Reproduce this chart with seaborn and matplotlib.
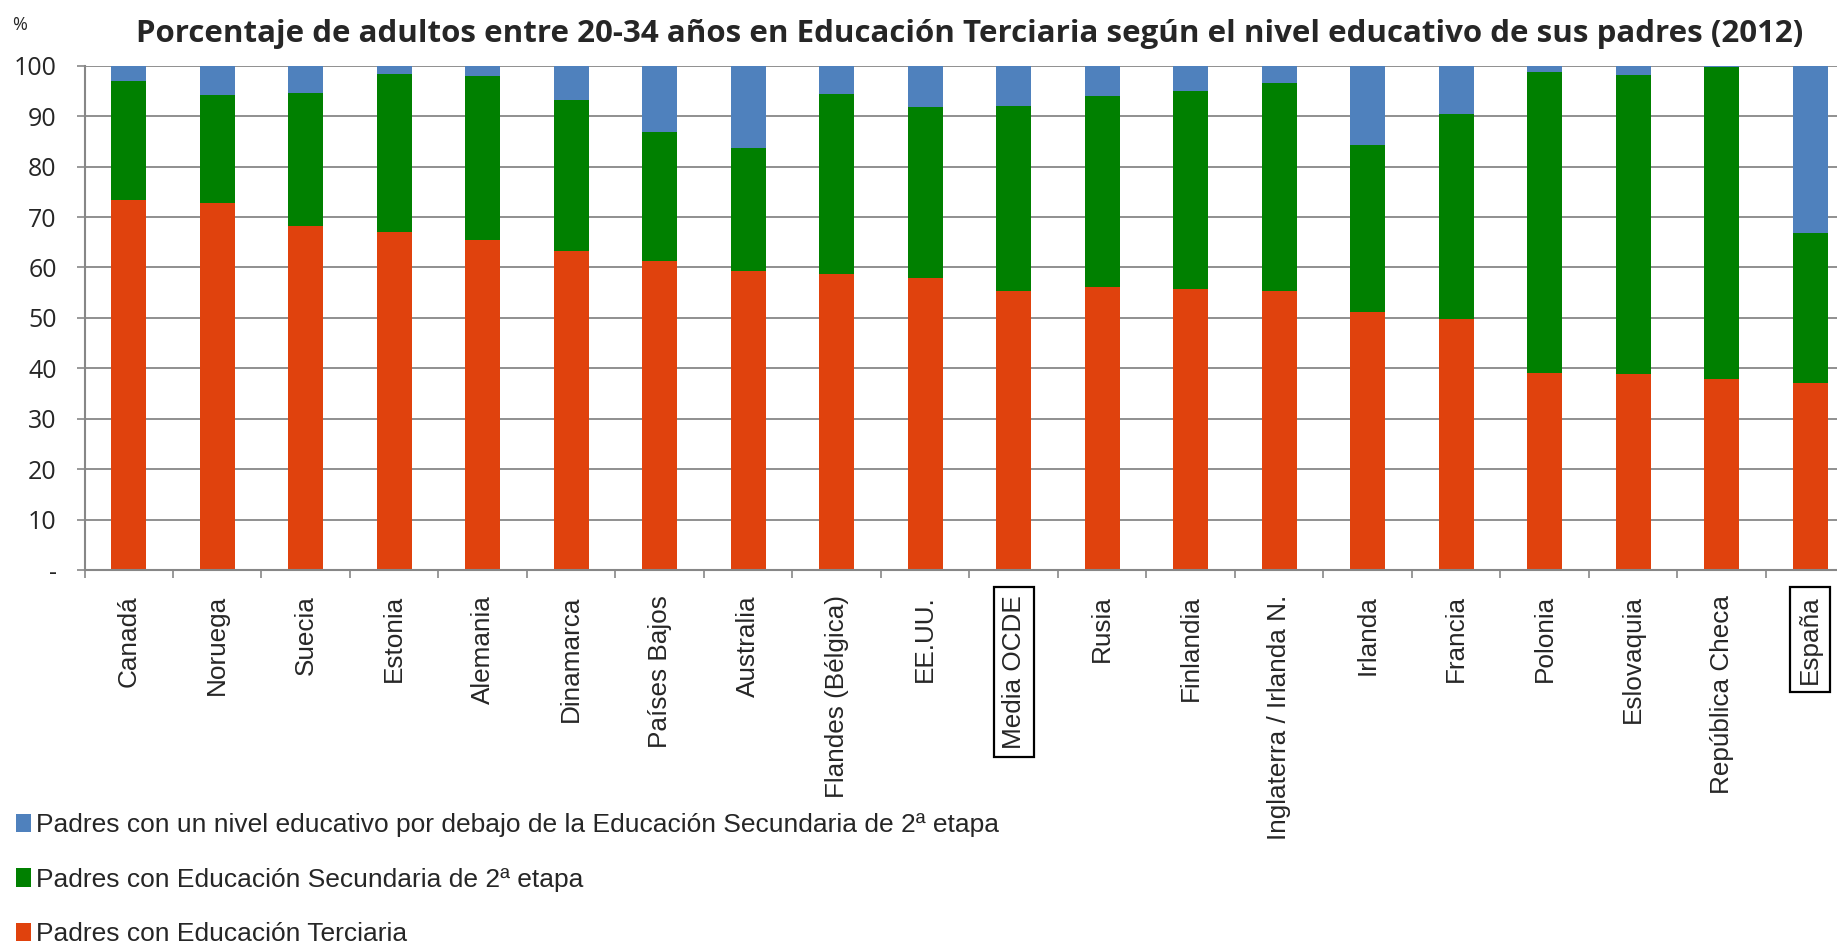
import matplotlib
matplotlib.use("Agg")
import matplotlib.pyplot as plt
import numpy as np
import pandas as pd
import seaborn as sns
from matplotlib import font_manager
from matplotlib.patches import Patch

paises = [
    "Canadá", "Noruega", "Suecia", "Estonia", "Alemania", "Dinamarca",
    "Países Bajos", "Australia", "Flandes (Bélgica)", "EE.UU.", "Media OCDE",
    "Rusia", "Finlandia", "Inglaterra / Irlanda N.", "Irlanda", "Francia",
    "Polonia", "Eslovaquia", "República Checa", "España",
]
terciaria = [73.3, 72.7, 68.3, 67.0, 65.5, 63.3, 61.3, 59.3, 58.8, 58.0,
             55.4, 56.1, 55.8, 55.3, 51.1, 49.7, 39.1, 38.8, 37.8, 37.1]
secundaria = [23.7, 21.4, 26.2, 31.4, 32.4, 29.9, 25.5, 24.4, 35.5, 33.9,
              36.6, 37.9, 39.2, 41.2, 33.1, 40.7, 59.7, 59.4, 62.0, 29.7]
bajo = [3.0, 5.9, 5.5, 1.6, 2.1, 6.8, 13.2, 16.3, 5.7, 8.1,
        8.0, 6.0, 5.0, 3.5, 15.8, 9.6, 1.2, 1.8, 0.2, 33.2]

series = [
    "Padres con un nivel educativo por debajo de la Educación Secundaria de 2ª etapa",
    "Padres con Educación Secundaria de 2ª etapa",
    "Padres con Educación Terciaria",
]
colores = ["#4F81BD", "#008000", "#E0420D"]
destacados = ["Media OCDE", "España"]

df = pd.DataFrame({"pais": paises, "ter": terciaria, "sec": secundaria, "bajo": bajo})
df["tope_sec"] = df["ter"] + df["sec"]
df["tope_bajo"] = df["tope_sec"] + df["bajo"]

sns.set_theme(style="white")
installed = {f.name for f in font_manager.fontManager.ttflist}
narrow = "Liberation Sans Narrow" if "Liberation Sans Narrow" in installed else "Liberation Sans"
plt.rcParams["font.family"] = ["Liberation Sans", "DejaVu Sans"]

fig = plt.figure(figsize=(18.37, 9.44), dpi=100)
ax = fig.add_axes([0.046, 0.396, 0.9635, 0.5344])

# stacked bars: draw cumulative tops from largest to smallest
for col, color in zip(["tope_bajo", "tope_sec", "ter"], colores):
    sns.barplot(data=df, x="pais", y=col, color=color, width=0.4,
                saturation=1, ax=ax, edgecolor="none", linewidth=0)

ax.set_xlim(-0.5, len(paises) - 0.5)
ax.set_ylim(0, 100)
ax.set_xlabel("")
ax.set_ylabel("")

grid_c = "#878787"
ax.set_yticks(np.arange(0, 101, 10))
ax.set_yticklabels(["-"] + [str(v) for v in range(10, 101, 10)],
                   fontfamily="Open Sans", fontsize=18)
ax.yaxis.grid(True, color=grid_c, linewidth=1.3)
ax.set_axisbelow(True)
ax.tick_params(axis="y", length=6, width=1.2, color=grid_c, pad=14, left=True)

ax.set_xticks(range(len(paises)))
ax.set_xticks(np.arange(-0.5, len(paises)), minor=True)
ax.set_xticklabels(paises, rotation=90, fontsize=18.8, ha="center", va="top")
ax.tick_params(axis="x", which="major", length=0, pad=18)
ax.tick_params(axis="x", which="minor", length=6, width=1.2, color=grid_c, bottom=True)

for lab in ax.get_xticklabels():
    if lab.get_text() in destacados:
        lab.set_bbox(dict(boxstyle="square,pad=0.3", facecolor="white",
                          edgecolor="black", linewidth=1.6))

for side in ["top", "right"]:
    ax.spines[side].set_visible(False)
for side in ["left", "bottom"]:
    ax.spines[side].set_color(grid_c)
    ax.spines[side].set_linewidth(1.5)

fig.text(0.528, 0.964, "Porcentaje de adultos entre 20-34 años en Educación Terciaria "
         "según el nivel educativo de sus padres (2012)",
         ha="center", va="center", fontsize=22.5, fontweight="bold", fontfamily="Open Sans")
fig.text(0.0105, 0.973, "%", ha="center", va="center", fontsize=13, fontfamily="Open Sans")

handles = [Patch(facecolor=c, edgecolor="none") for c in colores]
fig.legend(handles, series, loc="center left", bbox_to_anchor=(0.003, 0.068),
           frameon=False, handlelength=0.55, handleheight=0.7, handletextpad=0.2,
           labelspacing=1.15, borderaxespad=0,
           prop={"family": narrow, "size": 19})

fig.savefig("out.png", dpi=100)
